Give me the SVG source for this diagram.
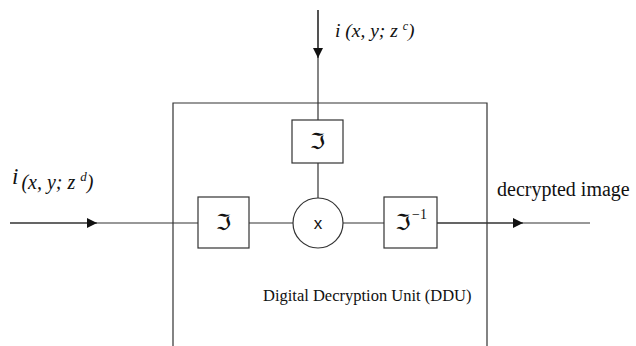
<svg xmlns="http://www.w3.org/2000/svg" width="636" height="346" viewBox="0 0 636 346">
  <style>
    .ln { stroke: #333; stroke-width: 1.2; fill: none; }
    .blk { stroke: #333; stroke-width: 1.2; fill: #fff; }
    .lbl { font-family: "Liberation Serif", "Times New Roman", serif; fill: #111; }
    .it { font-style: italic; }
    .frak { font-family: "DejaVu Sans", "DejaVu Serif", sans-serif; font-size: 22px; fill: #111; }
    .mul { font-family: "Liberation Sans", sans-serif; font-size: 17px; fill: #111; }
  </style>
  <defs>
    <marker id="arr" viewBox="0 0 10 10" refX="10" refY="5" markerWidth="10" markerHeight="10" markerUnits="userSpaceOnUse" orient="auto">
      <path d="M0,0 L10,5 L0,10 Z" fill="#111"/>
    </marker>
  </defs>

  <!-- Digital Decryption Unit enclosure (open at the bottom) -->
  <g id="ddu">
    <path class="ln" d="M173,346 V103 H487 V346"/>
    <text class="lbl" x="263" y="301" font-size="16.5">Digital Decryption Unit (DDU)</text>
  </g>

  <!-- connectors -->
  <g id="connectors">
    <path class="ln" d="M318,10 V120"/>
    <path class="ln" d="M318,10 V58" marker-end="url(#arr)"/>
    <path class="ln" d="M318,163 V198"/>
    <path class="ln" d="M10,223 H198"/>
    <path class="ln" d="M10,223 H97" marker-end="url(#arr)"/>
    <path class="ln" d="M249,223 H293"/>
    <path class="ln" d="M343,223 H384"/>
    <path class="ln" d="M437,223 H590"/>
    <path class="ln" d="M437,223 H523" marker-end="url(#arr)"/>
  </g>

  <g id="ft-key">
    <rect class="blk" x="292" y="120" width="51" height="43"/>
    <text class="frak" x="317.5" y="149" text-anchor="middle">ℑ</text>
  </g>

  <g id="ft-input">
    <rect class="blk" x="198" y="197" width="51" height="51"/>
    <text class="frak" x="223.5" y="230" text-anchor="middle">ℑ</text>
  </g>

  <g id="multiplier">
    <circle class="blk" cx="318" cy="223" r="25"/>
    <text class="mul" x="318" y="229" text-anchor="middle">x</text>
  </g>

  <g id="ift">
    <rect class="blk" x="384" y="197" width="53" height="51"/>
    <text class="frak" x="403" y="230" text-anchor="middle">ℑ</text>
    <text class="lbl" x="412" y="219" font-size="14">−1</text>
  </g>

  <!-- signal labels -->
  <g id="labels">
    <text class="lbl it" x="335" y="37" font-size="19.5">i (x, y; z <tspan font-size="12" dy="-7">c</tspan><tspan dy="7">)</tspan></text>
    <text class="lbl it" x="12" y="184" font-size="23">i<tspan font-size="20" dx="3" dy="5">(x, y; z </tspan><tspan font-size="13" dy="-8">d</tspan><tspan font-size="20" dy="8">)</tspan></text>
    <text class="lbl" x="497" y="196" font-size="20">decrypted image</text>
  </g>
</svg>
